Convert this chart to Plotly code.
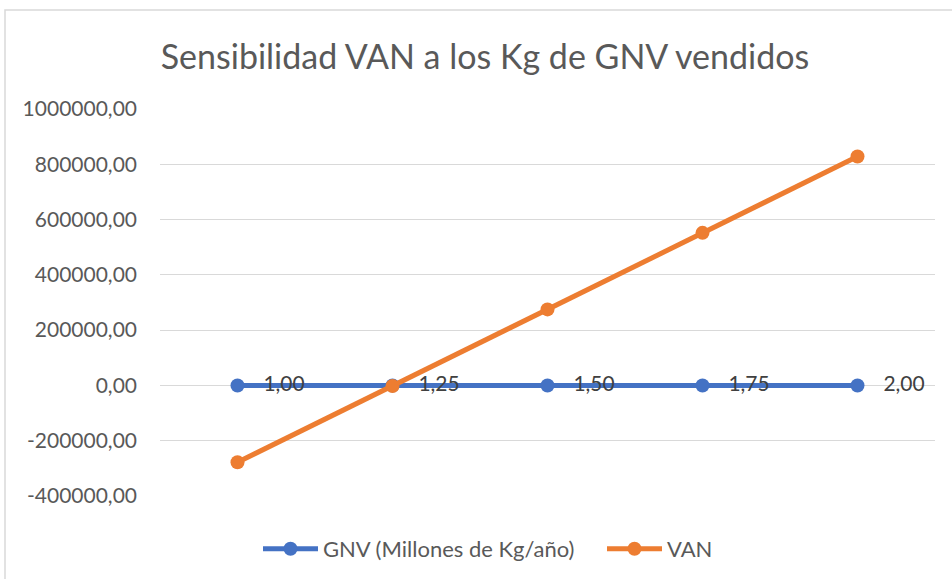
import plotly.graph_objects as go

# ---- data ----
categories = [1, 2, 3, 4, 5]
gnv_millones = [1.00, 1.25, 1.50, 1.75, 2.00]
van = [-278000, -2000, 275000, 552000, 828000]
tick_values = [-400000, -200000, 0, 200000, 400000, 600000, 800000, 1000000]
tick_labels = ["-400000,00", "-200000,00", "0,00", "200000,00", "400000,00",
               "600000,00", "800000,00", "1000000,00"]
series_names = ["GNV (Millones de Kg/año)", "VAN"]

BLUE = "#4472C4"
ORANGE = "#ED7D31"
FONT = "Lato, 'Open Sans', sans-serif"
PAD = "\u00a0" * 4

fig = go.Figure()
fig.add_trace(go.Scatter(
    x=categories, y=gnv_millones, name=series_names[0] + PAD,
    mode="lines+markers+text",
    line=dict(color=BLUE, width=5),
    marker=dict(color=BLUE, size=14),
    text=["\u00a0\u00a0\u00a0" + f"{v:.2f}".replace(".", ",") for v in gnv_millones],
    textposition="middle right",
    textfont=dict(color="#404040", size=21, family=FONT),
))
fig.add_trace(go.Scatter(
    x=categories, y=van, name=series_names[1],
    mode="lines+markers",
    line=dict(color=ORANGE, width=5),
    marker=dict(color=ORANGE, size=14),
))

L, R, T, B = 160, 17, 109, 83
W, H = 952, 579
pw, ph = W - L - R, H - T - B

fig.update_layout(
    width=W, height=H,
    margin=dict(l=L, r=R, t=T, b=B, autoexpand=False),
    paper_bgcolor="white", plot_bgcolor="white",
    font=dict(family=FONT, color="#595959", size=20),
    title=dict(text="Sensibilidad VAN a los Kg de GNV vendidos",
               x=485 / W, xanchor="center", y=1 - 57 / H, yanchor="middle",
               font=dict(size=34, color="#595959", family=FONT)),
    showlegend=True,
    legend=dict(orientation="h", x=(488 - L) / pw, xanchor="center",
                y=-(549 - (T + ph)) / ph, yanchor="middle",
                font=dict(size=22, color="#595959", family=FONT),
                itemwidth=55, bgcolor="rgba(0,0,0,0)"),
    xaxis=dict(range=[0.5, 5.5], showticklabels=False, showgrid=False,
               zeroline=False, showline=False, ticks=""),
    yaxis=dict(range=[-400000, 1000000], tickvals=tick_values, ticktext=tick_labels,
               showgrid=True, gridcolor="#D9D9D9", gridwidth=1,
               zeroline=False, showline=False, ticks="",
               ticklabelstandoff=22,
               tickfont=dict(size=21, color="#595959", family=FONT)),
    shapes=[dict(type="rect", xref="paper", yref="paper",
                 x0=(5 - L) / pw, x1=(W + 10 - L) / pw,
                 y0=-(H + 10 - (T + ph)) / ph, y1=(T + ph - 10) / ph,
                 line=dict(color="#D9D9D9", width=1.5), fillcolor="rgba(0,0,0,0)",
                 layer="below")],
)

fig.write_html("out.html", config={"displayModeBar": False},
               post_script="document.body.style.margin='0';")
